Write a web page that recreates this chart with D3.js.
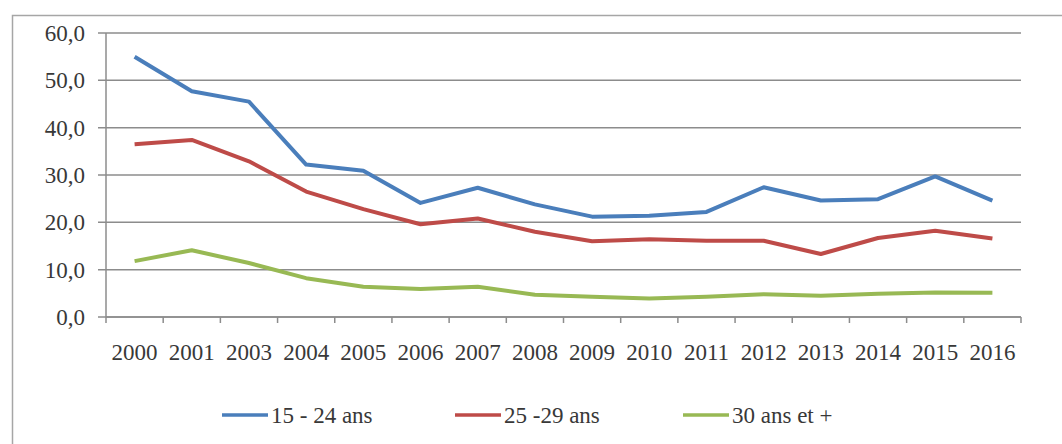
<!DOCTYPE html>
<html>
<head>
<meta charset="utf-8">
<script src="https://cdn.jsdelivr.net/npm/d3@7"></script>
</head>
<body style="margin:0">
<script>
// data
const years = ["2000","2001","2003","2004","2005","2006","2007","2008","2009","2010","2011","2012","2013","2014","2015","2016"];
const seriesNames = ["15 - 24 ans", "25 -29 ans", "30 ans et +"];
const age15to24 = [55.0, 47.7, 45.5, 32.2, 30.9, 24.1, 27.3, 23.8, 21.2, 21.4, 22.2, 27.4, 24.6, 24.9, 29.7, 24.6];
const age25to29 = [36.5, 37.4, 32.9, 26.5, 22.8, 19.6, 20.8, 18.0, 16.0, 16.4, 16.1, 16.1, 13.3, 16.7, 18.2, 16.6];
const age30plus = [11.8, 14.1, 11.4, 8.2, 6.4, 5.9, 6.4, 4.7, 4.3, 3.9, 4.3, 4.8, 4.5, 4.9, 5.2, 5.1];
const yTicks = [0, 10, 20, 30, 40, 50, 60];
const colors = ["#4a7ebb", "#be4b48", "#98b954"];

const W = 1062, H = 444;
const margin = {top: 33, right: 41, bottom: 127, left: 106};
const width = W - margin.left - margin.right;
const height = H - margin.top - margin.bottom;
const serif = "Liberation Serif";
const textColor = "#383838";
// legend item left edges (layout)
const legendX = [222, 455, 683];

const svg = d3.select("body").append("svg")
    .attr("width", W)
    .attr("height", H);

// outer frame (only top and left edges are visible)
svg.append("rect")
    .attr("x", 12.5).attr("y", 15.5)
    .attr("width", W + 10).attr("height", H + 10)
    .attr("fill", "none")
    .attr("stroke", "#a6a6a6")
    .attr("stroke-width", 1.5);

const g = svg.append("g")
    .attr("transform", "translate(" + margin.left + "," + margin.top + ")");

const x = d3.scaleBand().domain(years).range([0, width]);
const y = d3.scaleLinear().domain([0, 60]).range([height, 0]);

// gridlines and y labels
g.selectAll(".grid").data(yTicks).join("line")
    .attr("class", "grid")
    .attr("x1", -8).attr("x2", width)
    .attr("y1", d => y(d)).attr("y2", d => y(d))
    .attr("stroke", "#8c8c8c")
    .attr("stroke-width", 1.5);
g.selectAll(".ylabel").data(yTicks).join("text")
    .attr("class", "ylabel")
    .attr("x", -21)
    .attr("y", d => y(d) + 8)
    .attr("text-anchor", "end")
    .attr("font-family", serif)
    .attr("font-size", 23)
    .attr("fill", textColor)
    .text(d => d3.format(".1f")(d).replace(".", ","));

g.append("line")
    .attr("x1", 0).attr("x2", 0)
    .attr("y1", y(60)).attr("y2", y(0))
    .attr("stroke", "#8c8c8c")
    .attr("stroke-width", 1.5);

// bottom axis: ticks at band boundaries
const xAxisG = g.append("g").attr("transform", "translate(0," + height + ")");
xAxisG.append("line")
    .attr("x1", 0).attr("x2", width)
    .attr("stroke", "#8c8c8c").attr("stroke-width", 1.5);
const bounds = years.map(d => x(d)).concat([width]);
xAxisG.selectAll(".xtick").data(bounds).join("line")
    .attr("class", "xtick")
    .attr("x1", d => d).attr("x2", d => d)
    .attr("y1", 0).attr("y2", 6)
    .attr("stroke", "#8c8c8c").attr("stroke-width", 1.5);
xAxisG.selectAll(".xlabel").data(years).join("text")
    .attr("class", "xlabel")
    .attr("x", d => x(d) + x.bandwidth() / 2)
    .attr("y", 43)
    .attr("text-anchor", "middle")
    .attr("font-family", serif)
    .attr("font-size", 23)
    .attr("fill", textColor)
    .text(d => d);

// lines
const allSeries = [age15to24, age25to29, age30plus];
const line = d3.line()
    .x((d, i) => x(years[i]) + x.bandwidth() / 2)
    .y(d => y(d));

g.selectAll(".serie").data(allSeries).join("path")
    .attr("class", "serie")
    .attr("d", line)
    .attr("fill", "none")
    .attr("stroke", (d, i) => colors[i])
    .attr("stroke-width", 4)
    .attr("stroke-linejoin", "round");

// legend
const items = svg.selectAll(".leg").data(seriesNames).join("g")
    .attr("class", "leg")
    .attr("transform", (d, i) => "translate(" + legendX[i] + ",415)");
items.append("line")
    .attr("x1", 0).attr("x2", 46)
    .attr("stroke", (d, i) => colors[i])
    .attr("stroke-width", 3.5);
items.append("text")
    .attr("x", 49)
    .attr("y", 8)
    .attr("font-family", serif)
    .attr("font-size", 23)
    .attr("fill", textColor)
    .text(d => d);
</script>
</body>
</html>
